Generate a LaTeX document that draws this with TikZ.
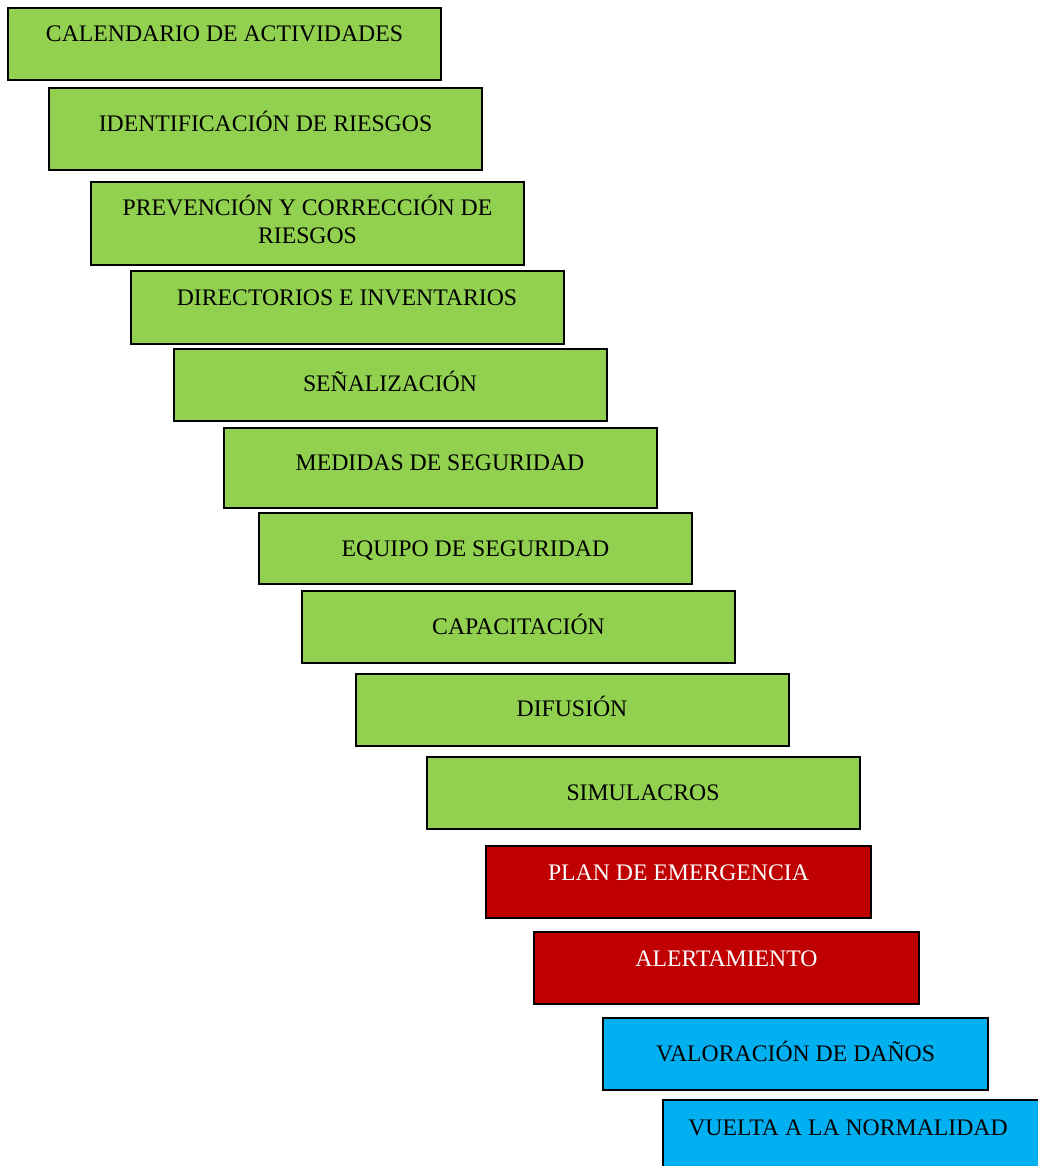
\documentclass[tikz,border=0pt]{standalone}
\usepackage{fontspec}
\setmainfont{Liberation Serif}
\usepackage{tikz}
\usetikzlibrary{positioning}

\definecolor{stepgreen}{RGB}{146,208,80}
\definecolor{stepred}{RGB}{192,0,0}
\definecolor{stepblue}{RGB}{0,176,240}

\tikzset{
  stepbox/.style={draw=black, line width=1pt, anchor=north west, inner sep=0pt, outer sep=0pt, minimum height=1.44cm},
  greenbox/.style={stepbox, fill=stepgreen, minimum width=8.66cm},
  redbox/.style={stepbox, fill=stepred, minimum width=7.70cm},
  bluebox/.style={stepbox, fill=stepblue, minimum width=7.70cm},
  steptext/.style={anchor=base, inner sep=0pt, align=center, font=\fontsize{13.5}{15.9}\selectfont},
}

\begin{document}
\begin{tikzpicture}
   \useasboundingbox (0,0) rectangle (20.74,-23.32);
   % escalones
   \draw (0.16,-0.16) node[greenbox] (calendario) {};
   \draw (0.98,-1.76) node[greenbox, minimum height=1.64cm] (identificacion) {};
   \draw (1.82,-3.64) node[greenbox, minimum height=1.66cm] (prevencion) {};
   \draw (2.62,-5.42) node[greenbox, minimum height=1.46cm] (directorios) {};
   \draw (3.48,-6.98) node[greenbox] (senalizacion) {};
   \draw (4.48,-8.56) node[greenbox, minimum height=1.60cm] (medidas) {};
   \draw (5.18,-10.26) node[greenbox, minimum height=1.42cm] (equipo) {};
   \draw (6.04,-11.82) node[greenbox] (capacitacion) {};
   \draw (7.12,-13.48) node[greenbox] (difusion) {};
   \draw (8.54,-15.14) node[greenbox] (simulacros) {};
   \draw (9.72,-16.92) node[redbox] (plan) {};
   \draw (10.68,-18.64) node[redbox] (alertamiento) {};
   \draw (12.06,-20.36) node[bluebox] (valoracion) {};
   \draw (13.26,-22.00) node[bluebox] (vuelta) {};

   % textos
   \draw (4.49,-0.82) node[steptext] (calendarioT) {CALENDARIO DE ACTIVIDADES};
   \draw (5.31,-2.62) node[steptext] (identificacionT) {IDENTIFICACIÓN DE RIESGOS};
   \draw (6.15,-4.86) node[steptext] (prevencionT) {PREVENCIÓN Y CORRECCIÓN DE\\RIESGOS};
   \draw (6.94,-6.10) node[steptext] (directoriosT) {DIRECTORIOS E INVENTARIOS};
   \draw (7.80,-7.82) node[steptext] (senalizacionT) {SEÑALIZACIÓN};
   \draw (8.80,-9.40) node[steptext] (medidasT) {MEDIDAS DE SEGURIDAD};
   \draw (9.51,-11.12) node[steptext] (equipoT) {EQUIPO DE SEGURIDAD};
   \draw (10.37,-12.68) node[steptext] (capacitacionT) {CAPACITACIÓN};
   \draw (11.44,-14.32) node[steptext] (difusionT) {DIFUSIÓN};
   \draw (12.86,-16.00) node[steptext] (simulacrosT) {SIMULACROS};
   \draw (13.57,-17.60) node[steptext, text=white] (planT) {PLAN DE EMERGENCIA};
   \draw (14.53,-19.32) node[steptext, text=white] (alertamientoT) {ALERTAMIENTO};
   \draw (15.91,-21.22) node[steptext] (valoracionT) {VALORACIÓN DE DAÑOS};
   \draw (16.96,-22.70) node[steptext] (vueltaT) {VUELTA A LA NORMALIDAD};
\end{tikzpicture}
\end{document}
